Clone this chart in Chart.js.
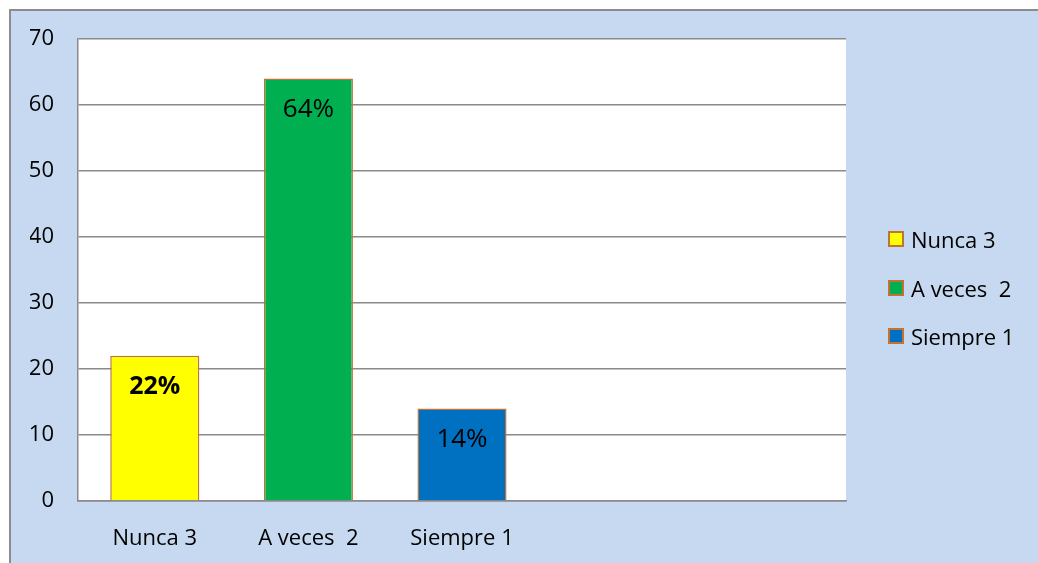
<!DOCTYPE html>
<html>
<head>
<meta charset="utf-8">
<script src="https://cdn.jsdelivr.net/npm/chart.js@4"></script>
<style>
    html, body { margin: 0; padding: 0; background: #fff; overflow: hidden; }
    #wrap { position: absolute; left: 0; top: 0; width: 1038px; height: 563px; }
    #chart { display: block; }
    #legend {
        position: absolute; left: 888px; top: 215px;
        font-family: "Open Sans", sans-serif; font-size: 22px; color: #000;
    }
    .item { display: flex; align-items: center; height: 48.5px; white-space: pre; }
    .box { width: 12px; height: 12px; border: 2px solid #be7434; margin-right: 7px; }
</style>
</head>
<body>
<div id="wrap"><canvas id="chart" width="1038" height="563"></canvas></div>
<div id="legend"></div>
<script>
// Data
const categories = ['Nunca 3', 'A veces  2', 'Siempre 1', '', ''];
const values = [22, 64, 14, null, null];
const percentLabels = ['22%', '64%', '14%'];
const percentBold = [true, false, false];
const barColors = ['#ffff00', '#00b050', '#0070c0'];
const yTicks = [0, 10, 20, 30, 40, 50, 60, 70];

const FONT = '"Open Sans", sans-serif';
const GRID = '#8a8a8a';

// Light blue frame and white plot area
const backgroundPlugin = {
    id: 'backgrounds',
    beforeDraw(chart) {
        const ctx = chart.ctx;
        const a = chart.chartArea;
        ctx.save();
        ctx.fillStyle = '#ffffff';
        ctx.fillRect(0, 0, chart.width, chart.height);
        ctx.fillStyle = '#c6d9f0';
        ctx.fillRect(9, 9, chart.width - 9, chart.height - 9);
        ctx.strokeStyle = '#8c8c8c';
        ctx.lineWidth = 2;
        ctx.beginPath();
        ctx.moveTo(10, chart.height);
        ctx.lineTo(10, 10);
        ctx.lineTo(chart.width, 10);
        ctx.stroke();
        ctx.fillStyle = '#ffffff';
        ctx.fillRect(a.left, a.top, a.right - a.left, a.bottom - a.top);
        ctx.restore();
    }
};

// Draw percentage text inside the top of each bar
const barLabelPlugin = {
    id: 'barLabels',
    afterDatasetsDraw(chart) {
        const ctx = chart.ctx;
        const meta = chart.getDatasetMeta(0);
        ctx.save();
        ctx.fillStyle = '#000';
        ctx.textAlign = 'center';
        ctx.textBaseline = 'middle';
        percentLabels.forEach((label, i) => {
            const bar = meta.data[i];
            if (!bar) return;
            ctx.font = (percentBold[i] ? 'bold 25px ' : '26px ') + FONT;
            ctx.fillText(label, bar.x, bar.y + 31);
        });
        ctx.restore();
    }
};

new Chart(document.getElementById('chart'), {
    type: 'bar',
    data: {
        labels: categories,
        datasets: [{
            data: values,
            backgroundColor: barColors,
            borderColor: '#be7434',
            borderWidth: 1.5,
            categoryPercentage: 1,
            barPercentage: 0.58
        }]
    },
    options: {
        responsive: false,
        animation: false,
        layout: { padding: { left: 30, top: 39, right: 192, bottom: 0 } },
        plugins: {
            legend: { display: false },
            tooltip: { enabled: false }
        },
        scales: {
            x: {
                grid: { display: false },
                border: { display: true, color: GRID, width: 1.5 },
                ticks: {
                    color: '#000',
                    padding: 17,
                    maxRotation: 0,
                    font: { family: FONT, size: 22 }
                },
                afterFit(scale) { scale.height = 62; }
            },
            y: {
                min: 0,
                max: 70,
                afterBuildTicks(scale) { scale.ticks = yTicks.map(v => ({ value: v })); },
                grid: { color: GRID, lineWidth: 1.5, drawTicks: false },
                border: { display: true, color: GRID, width: 1.5 },
                ticks: {
                    color: '#000',
                    padding: 24,
                    font: { family: FONT, size: 22 }
                },
                afterFit(scale) { scale.width = 48; }
            }
        }
    },
    plugins: [backgroundPlugin, barLabelPlugin]
});

// Legend on the right
const legend = document.getElementById('legend');
categories.slice(0, 3).forEach((name, i) => {
    const item = document.createElement('div');
    item.className = 'item';
    item.innerHTML = `<span class="box" style="background:${barColors[i]}"></span>${name}`;
    legend.appendChild(item);
});
</script>
</body>
</html>
